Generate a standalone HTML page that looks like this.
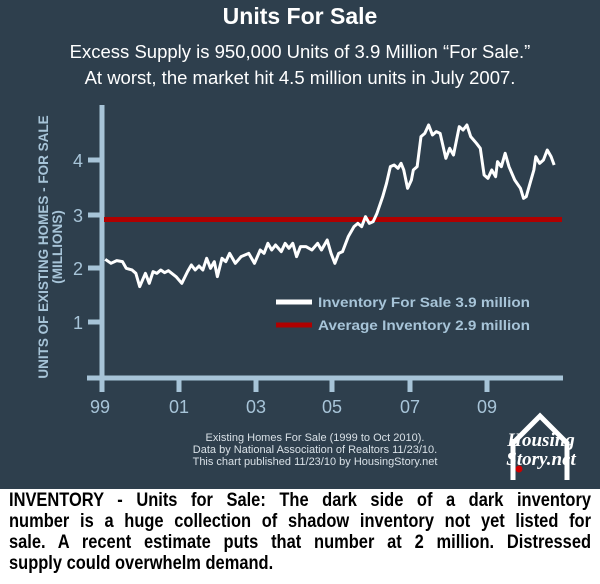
<!DOCTYPE html>
<html><head><meta charset="utf-8"><style>
body{margin:0;width:600px;height:584px;background:#fff;position:relative;overflow:hidden;font-family:"Liberation Sans",sans-serif}
#dark{position:absolute;left:0;top:0;width:600px;height:489px;background:#2e3f4d}
.t{position:absolute;white-space:nowrap}
#bottom{position:absolute;left:9px;top:490px;width:690px;transform:scaleX(0.8435);transform-origin:0 0;font:bold 19.5px/21px "Liberation Sans",sans-serif;color:#000}
#bottom div{text-align:justify;text-align-last:justify;height:21px;white-space:nowrap}
#bottom div.l{text-align-last:left}
</style></head><body>
<div id="dark"></div>
<div class="t" style="left:0;width:600px;text-align:center;top:3px;color:#fff;font-weight:bold;font-size:23px">Units For Sale</div>
<div class="t" style="left:0;width:600px;text-align:center;top:39px;color:#fff;font-size:18.5px;line-height:26px">Excess Supply is 950,000 Units of 3.9 Million “For Sale.”<br>At worst, the market hit 4.5 million units in July 2007.</div>
<svg width="600" height="489" style="position:absolute;left:0;top:0">
<g stroke="#a7c4d8" stroke-width="5" fill="none">
<line x1="102" y1="105" x2="102" y2="380"/>
<line x1="87" y1="378" x2="563" y2="378"/>
<line x1="88" y1="160" x2="102" y2="160"/><line x1="88" y1="215" x2="102" y2="215"/>
<line x1="88" y1="268" x2="102" y2="268"/><line x1="88" y1="322" x2="102" y2="322"/>
<line x1="102" y1="378" x2="102" y2="392"/><line x1="179" y1="378" x2="179" y2="392"/>
<line x1="256" y1="378" x2="256" y2="392"/><line x1="332" y1="378" x2="332" y2="392"/>
<line x1="410" y1="378" x2="410" y2="392"/><line x1="487" y1="378" x2="487" y2="392"/>
</g>
<g fill="#a7c4d8" font-family="Liberation Sans" font-size="18" text-anchor="end">
<text x="83" y="167">4</text><text x="83" y="222">3</text><text x="83" y="275">2</text><text x="83" y="329">1</text>
</g>
<g fill="#a7c4d8" font-family="Liberation Sans" font-size="18" text-anchor="middle">
<text x="100" y="413">99</text><text x="179" y="413">01</text><text x="256" y="413">03</text><text x="332" y="413">05</text><text x="410" y="413">07</text><text x="487" y="413">09</text>
</g>
<text transform="translate(48,247) rotate(-90)" text-anchor="middle" fill="#a7c4d8" font-family="Liberation Sans" font-weight="bold" font-size="13.5">UNITS OF EXISTING HOMES - FOR SALE</text>
<text transform="translate(62,247) rotate(-90)" text-anchor="middle" fill="#a7c4d8" font-family="Liberation Sans" font-weight="bold" font-size="13.5">(MILLIONS)</text>
<line x1="104" y1="219.5" x2="562" y2="219.5" stroke="#b00000" stroke-width="5"/>
<g transform="translate(0,100) scale(0.3827,0.3333)">
<polyline fill="none" stroke="#fff" stroke-width="3" vector-effect="non-scaling-stroke" stroke-linejoin="round" points="275,478 290,490 305,482 320,485 330,505 345,510 355,520 365,560 380,520 390,550 400,515 410,520 420,510 430,518 440,512 460,530 475,550 490,515 500,495 510,510 520,498 530,510 540,475 550,505 560,485 568,530 580,475 590,485 600,460 615,490 630,470 650,460 665,490 680,450 690,460 700,430 710,450 720,435 735,455 745,430 755,445 765,430 775,470 785,440 800,440 815,450 830,430 840,450 855,420 865,460 875,490 885,460 895,455 910,410 925,380 935,370 945,380 955,350 965,370 975,365 985,340 1000,290 1010,250 1020,200 1030,195 1040,205 1048,190 1055,210 1065,265 1075,240 1080,210 1090,200 1100,110 1110,100 1120,75 1130,105 1140,95 1150,100 1165,175 1175,145 1185,165 1200,80 1210,90 1220,75 1230,110 1245,130 1255,145 1265,225 1275,235 1285,210 1295,230 1300,185 1310,200 1320,160 1330,200 1345,240 1360,265 1368,295 1375,290 1385,250 1395,210 1400,170 1410,190 1420,180 1430,150 1440,170 1448,195"/>
</g>
<line x1="276" y1="302" x2="312" y2="302" stroke="#fff" stroke-width="5"/>
<line x1="276" y1="325" x2="312" y2="325" stroke="#b00000" stroke-width="5"/>
<g fill="#a7c4d8" font-family="Liberation Sans" font-weight="bold" font-size="14">
<text x="318" y="307" textLength="212" lengthAdjust="spacingAndGlyphs">Inventory For Sale 3.9 million</text>
<text x="318" y="330" textLength="212" lengthAdjust="spacingAndGlyphs">Average Inventory 2.9 million</text>
</g>
<g fill="#d8e0e6" font-family="Liberation Sans" font-size="11" text-anchor="middle">
<text x="315" y="441">Existing Homes For Sale (1999 to Oct 2010).</text>
<text x="315" y="453">Data by National Association of Realtors 11/23/10.</text>
<text x="315" y="465">This chart published 11/23/10 by HousingStory.net</text>
</g>
<polyline points="513,480 513,443 540,416 567,443 567,480" fill="none" stroke="#fff" stroke-width="5"/>
<text x="541" y="446" text-anchor="middle" fill="#fff" font-family="Liberation Serif" font-style="italic" font-weight="bold" font-size="19">Housing</text>
<text x="541" y="465" text-anchor="middle" fill="#fff" font-family="Liberation Serif" font-style="italic" font-weight="bold" font-size="19">Story.net</text>
<circle cx="519" cy="469" r="3.5" fill="#c00"/>
</svg>
<div id="bottom">
<div>INVENTORY - Units for Sale: The dark side of a dark inventory</div>
<div>number is a huge collection of shadow inventory not yet listed for</div>
<div>sale. A recent estimate puts that number at 2 million. Distressed</div>
<div class="l">supply could overwhelm demand.</div>
</div>
</body></html>
